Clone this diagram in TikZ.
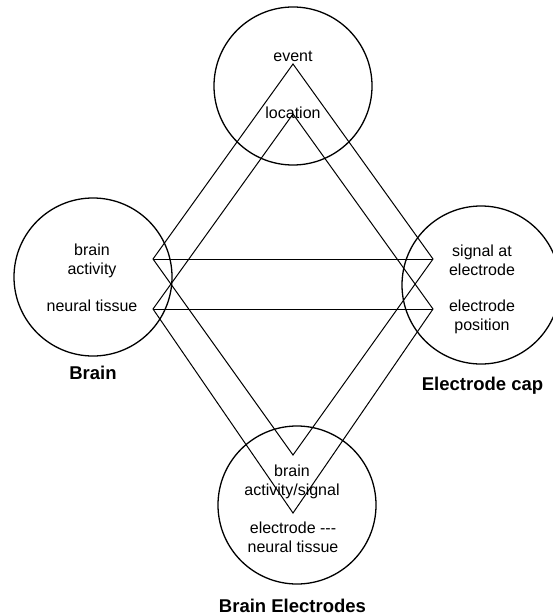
\documentclass[tikz,border=0pt]{standalone}
\usepackage{fontspec}
\setmainfont{Liberation Sans}
\begin{document}
\begin{tikzpicture}[x=1bp,y=-1bp,
  ring/.style={draw, line width=1.3bp, circle, minimum size=158bp, inner sep=0pt},
  txt/.style={font=\fontsize{16bp}{19.2bp}\selectfont, align=center, inner sep=0pt},
  caption/.style={font=\fontsize{18.5bp}{22bp}\selectfont\bfseries, inner sep=0pt},
  link/.style={line width=1bp}]
\useasboundingbox (0,0) rectangle (553,616);
\clip (0,0) rectangle (553,616);

% the four domains
\node[ring] (top)    at (293,86)  {};
\node[ring] (brain)  at (93,277)  {};
\node[ring] (cap)    at (481,285) {};
\node[ring] (elec)   at (297,505) {};

% texts inside the domains
\node[txt] (event)   at (293,56)  {event};
\node[txt] (loc)     at (293,113) {location};
\node[txt] (bact)    at (92,260.5){brain\\activity};
\node[txt] (ntis)    at (92,306)  {neural tissue};
\node[txt] (sig)     at (482,260) {signal at\\electrode};
\node[txt] (epos)    at (482,317) {electrode\\position};
\node[txt] (bsig)    at (292,482) {brain\\activity/signal};
\node[txt] (eneu)    at (293,537) {electrode -\kern0pt-\kern0pt-\\neural tissue};

% captions
\node[caption] (brainlbl) at (93,372.5)  {Brain};
\node[caption] (caplbl)   at (482.5,385.5) {Electrode cap};
\node[caption] (eleclbl)  at (292.5,606) {Brain Electrodes};

% junction points of the mapping
\coordinate (T1) at (293,64);
\coordinate (T2) at (293,114);
\coordinate (L1) at (153,259);
\coordinate (L2) at (153,309);
\coordinate (R1) at (433,259);
\coordinate (R2) at (433,309);
\coordinate (B1) at (293,455);
\coordinate (B2) at (293,513);

% mappings between the domains
\draw[link] (L1) -- (R1);
\draw[link] (L2) -- (R2);
\draw[link] (L1) -- (T1) -- (R1);
\draw[link] (L2) -- (T2) -- (R2);
\draw[link] (L1) -- (B1) -- (R1);
\draw[link] (L2) -- (B2) -- (R2);
\end{tikzpicture}
\end{document}
